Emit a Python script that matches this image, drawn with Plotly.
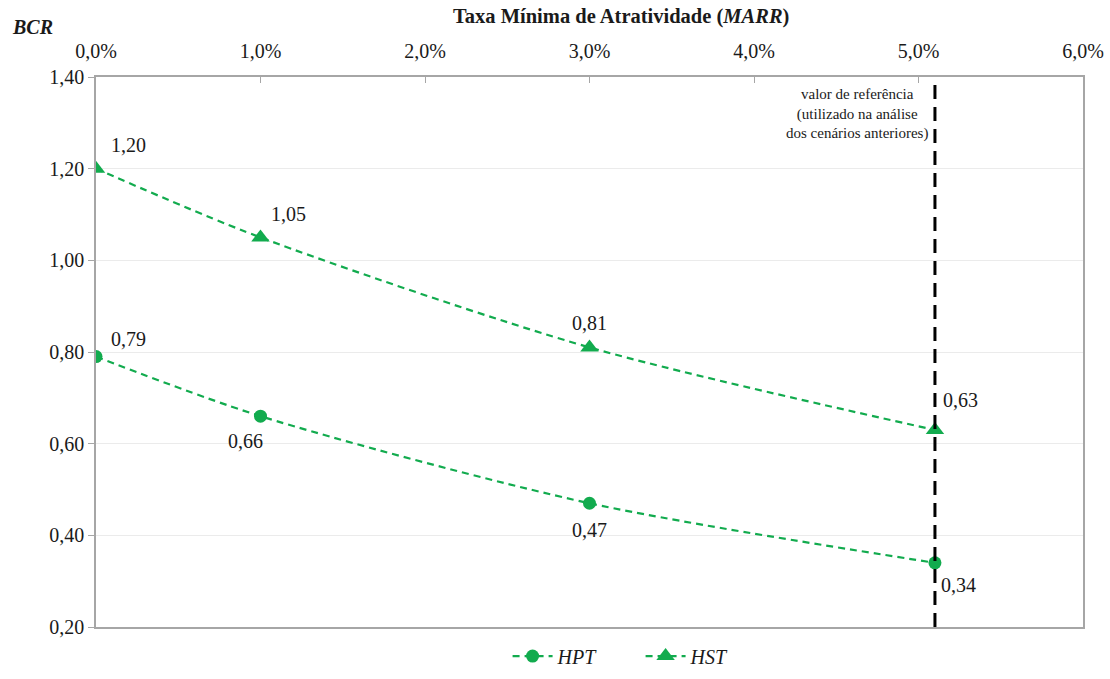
import plotly.graph_objects as go

# Minimum attractive rate of return (fraction) and benefit-cost ratios
marr = [0.0, 0.01, 0.03, 0.051]
bcr_hpt = [0.79, 0.66, 0.47, 0.34]
bcr_hst = [1.20, 1.05, 0.81, 0.63]
reference_rate = 0.051

series_names = ["HPT", "HST"]
y_ticks = [0.20, 0.40, 0.60, 0.80, 1.00, 1.20, 1.40]
x_ticks = [0.0, 0.01, 0.02, 0.03, 0.04, 0.05, 0.06]

GREEN = "#12AB4E"
SERIF = "Liberation Serif"

# label offsets (px) for each point's value text
hpt_offsets = [(32, 18), (-15, -25), (0, -27), (24, -22)]
hst_offsets = [(32, 24), (28, 23), (0, 24), (26, 30)]

fig = go.Figure()

fig.add_trace(go.Scatter(
    x=marr, y=bcr_hpt, name=f"<i>{series_names[0]}</i>",
    mode="lines+markers",
    line=dict(color=GREEN, width=2.2, dash="7px,5px", shape="spline", smoothing=0.8),
    marker=dict(symbol="circle", size=13, color=GREEN),
))
fig.add_trace(go.Scatter(
    x=marr, y=bcr_hst, name=f"<i>{series_names[1]}</i>",
    mode="lines+markers",
    line=dict(color=GREEN, width=2.2, dash="7px,5px", shape="spline", smoothing=0.8),
    marker=dict(symbol="triangle-up", size=16, color=GREEN),
))


def fmt(v):
    return f"{v:.2f}".replace(".", ",")


annotations = []
for xs, ys, offs in ((marr, bcr_hpt, hpt_offsets), (marr, bcr_hst, hst_offsets)):
    for xv, yv, (dx, dy) in zip(xs, ys, offs):
        annotations.append(dict(
            x=xv, y=yv, xref="x", yref="y", text=fmt(yv), showarrow=False,
            xshift=dx, yshift=dy, font=dict(family=SERIF, size=20, color="#1a1a1a"),
        ))

annotations.append(dict(
    x=0.532, y=1.0, xref="paper", yref="paper", yanchor="bottom", yshift=47,
    text="<b>Taxa Mínima de Atratividade (<i>MARR</i>)</b>", showarrow=False,
    font=dict(family=SERIF, size=20.5, color="#1a1a1a"),
))
annotations.append(dict(
    x=-0.087, y=1.0, xref="paper", yref="paper", xanchor="left", yanchor="bottom",
    yshift=37, text="<b><i>BCR</i></b>", showarrow=False,
    font=dict(family=SERIF, size=20, color="#1a1a1a"),
))
annotations.append(dict(
    x=reference_rate, y=1.0, xref="x", yref="paper", xanchor="right", yanchor="top",
    xshift=-5, yshift=-7, align="center",
    text="valor de referência<br>(utilizado na análise<br>dos cenários anteriores)",
    showarrow=False, font=dict(family=SERIF, size=15, color="#1a1a1a"),
))

fig.add_shape(
    type="line", x0=reference_rate, x1=reference_rate, y0=0, y1=1,
    xref="x", yref="paper", line=dict(color="black", width=3, dash="14px,8px"),
)

fig.update_layout(
    width=1110, height=679,
    margin=dict(l=96, r=27, t=77, b=52),
    paper_bgcolor="white", plot_bgcolor="white",
    separators=",.",
    showlegend=True,
    legend=dict(
        orientation="h", x=0.417, xanchor="left",
        yref="container", y=0.005, yanchor="bottom",
        font=dict(family=SERIF, size=20, color="#1a1a1a"),
        itemwidth=40, tracegroupgap=0,
        entrywidth=78, entrywidthmode="pixels",
    ),
    annotations=annotations,
    xaxis=dict(
        side="top", range=[0, 0.06], tickvals=x_ticks, tickformat=".1%",
        showgrid=False, zeroline=False, automargin=False,
        showline=True, linecolor="#a6a6a6", linewidth=1.5, mirror=True,
        ticks="inside", ticklen=6, tickcolor="#a6a6a6", ticklabelstandoff=9,
        tickfont=dict(family=SERIF, size=20, color="#1a1a1a"),
    ),
    yaxis=dict(
        range=[0.2, 1.4], tickvals=y_ticks, tickformat=".2f",
        showgrid=True, gridcolor="#ebebeb", gridwidth=1, zeroline=False,
        automargin=False,
        showline=True, linecolor="#a6a6a6", linewidth=1.5, mirror=True,
        ticks="outside", ticklen=6, tickcolor="#a6a6a6",
        tickfont=dict(family=SERIF, size=20, color="#1a1a1a"),
    ),
)

fig.write_html("out.html")
